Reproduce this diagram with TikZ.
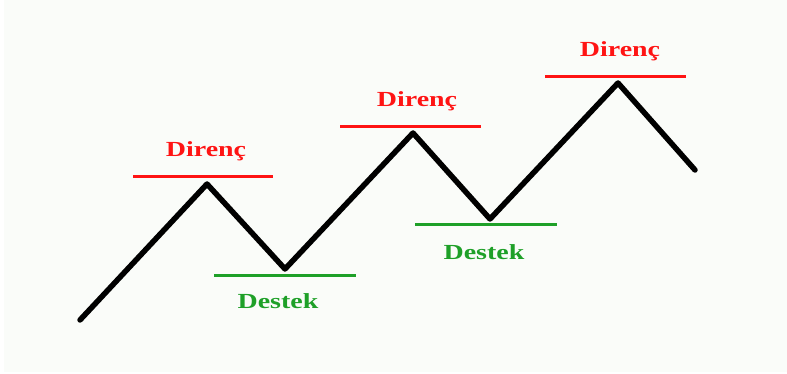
\documentclass[tikz,border=0pt]{standalone}
\usepackage{fontspec}
\setmainfont{Liberation Serif}
\definecolor{bg}{RGB}{250,252,249}
\definecolor{lvlred}{RGB}{255,20,20}
\definecolor{lvlgreen}{RGB}{30,160,40}
\begin{document}
\begin{tikzpicture}[x=1pt,y=-1pt,
  price/.style={line width=5.5pt,line cap=round,line join=round,black},
  resline/.style={line width=3pt,lvlred},
  supline/.style={line width=3pt,lvlgreen},
  lbl/.style={font=\bfseries\fontsize{21.5}{21.5}\selectfont,anchor=base,inner sep=0pt,xscale=1.3},
  reslbl/.style={lbl,text=lvlred},
  suplbl/.style={lbl,text=lvlgreen}]
\useasboundingbox (0,0) rectangle (787,374);
\fill[bg] (4,0) rectangle (787,372);
% price path
\coordinate (s) at (80,320);
\coordinate (p1) at (207,184);
\coordinate (t1) at (285,269);
\coordinate (p2) at (413,133);
\coordinate (t2) at (490,219);
\coordinate (p3) at (618,83);
\coordinate (e) at (695,170);
\draw[price] (s) -- (p1) -- (t1) -- (p2) -- (t2) -- (p3) -- (e);
% resistance lines
\coordinate (r1a) at (133,177); \coordinate (r1b) at (273,177);
\coordinate (r2a) at (340,127); \coordinate (r2b) at (481,127);
\coordinate (r3a) at (545,77);  \coordinate (r3b) at (686,77);
\draw[resline] (r1a) -- (r1b);
\draw[resline] (r2a) -- (r2b);
\draw[resline] (r3a) -- (r3b);
% support lines
\coordinate (s1a) at (214,275); \coordinate (s1b) at (356,275);
\coordinate (s2a) at (415,225); \coordinate (s2b) at (557,225);
\draw[supline] (s1a) -- (s1b);
\draw[supline] (s2a) -- (s2b);
% labels
\node[reslbl] (d1) at (206,157) {Direnç};
\node[reslbl] (d2) at (417,107) {Direnç};
\node[reslbl] (d3) at (620,57) {Direnç};
\node[suplbl] (k1) at (278,308) {Destek};
\node[suplbl] (k2) at (484,259) {Destek};
\end{tikzpicture}
\end{document}
